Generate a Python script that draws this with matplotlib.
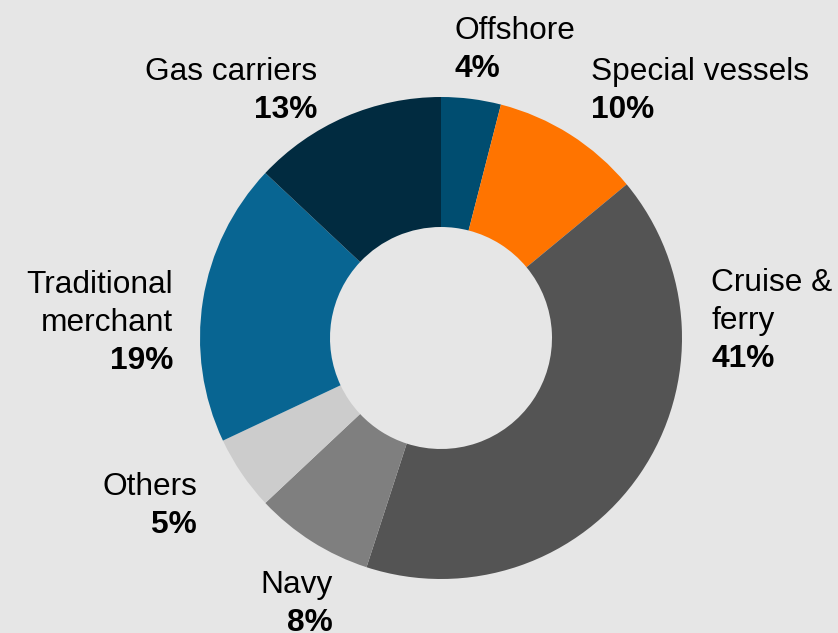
import matplotlib.pyplot as plt

# Data for the chart
segments = ['Offshore', 'Special vessels', 'Cruise &\nferry', 'Navy', 'Others',
            'Traditional\nmerchant', 'Gas carriers']
shares = [4, 10, 41, 8, 5, 19, 13]
colors = ['#004d70', '#ff7400', '#545454', '#7f7f7f', '#cccccc', '#086592', '#012b40']

# label anchors in pixel coords (x, baseline of percent line, alignment)
label_pos = [(454, 77, 'left'), (591, 118, 'left'), (711, 367, 'left'),
             (333, 631, 'right'), (197, 533, 'right'), (173, 369, 'right'),
             (317, 118, 'right')]

W, H = 838, 633
bg = '#e6e6e6'
plt.rcParams['font.family'] = ['Liberation Sans', 'DejaVu Sans']

fig = plt.figure(figsize=(W / 100, H / 100), dpi=100, facecolor=bg)
ax = fig.add_axes([0, 0, 1, 1])
ax.set_facecolor(bg)

ax.pie(shares, colors=colors, startangle=90, counterclock=False,
       radius=241, center=(441, H - 338),
       wedgeprops=dict(width=130, edgecolor='none'))

line_h = 38
fs = 22.8
for name, val, (x, y, ha) in zip(segments, shares, label_pos):
    ax.text(x, H - y, f'{val}%', ha=ha, va='baseline', fontsize=fs,
            fontweight='bold', color='black')
    lines = name.split('\n')
    for i, ln in enumerate(reversed(lines)):
        ax.text(x, H - y + line_h * (i + 1), ln, ha=ha, va='baseline',
                fontsize=fs, color='black')

ax.set_xlim(0, W)
ax.set_ylim(0, H)
ax.set_aspect('equal')
ax.axis('off')

fig.savefig('out.png', dpi=100, facecolor=bg)
